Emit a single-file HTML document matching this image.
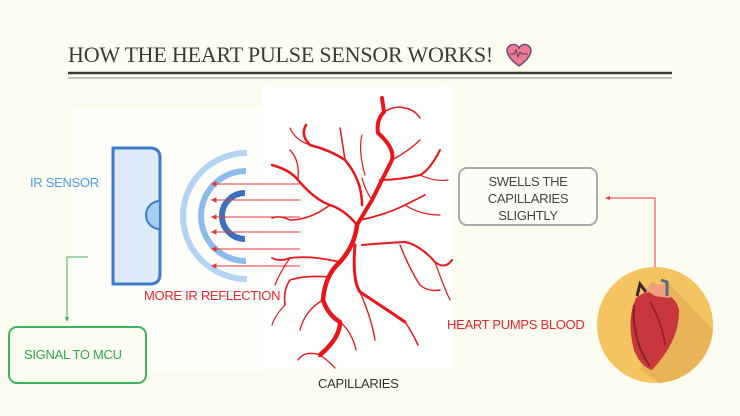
<!DOCTYPE html>
<html><head><meta charset="utf-8"><style>
html,body{margin:0;padding:0;}
body{width:740px;height:416px;background:#fcfcf1;position:relative;overflow:hidden;font-family:"Liberation Sans",sans-serif;}
.t{position:absolute;white-space:nowrap;font-size:13px;letter-spacing:-0.3px;}
</style></head><body>
<svg width="740" height="416" style="position:absolute;left:0;top:0">
  <rect x="72" y="108" width="195" height="262" fill="#fefefb"/>
  <rect x="262" y="86" width="190" height="282" fill="#ffffff"/>
  <line x1="68" y1="73" x2="672" y2="73" stroke="#3a3a36" stroke-width="2.5"/>
  <line x1="68" y1="78" x2="672" y2="78" stroke="#8a8a80" stroke-width="1"/>
  <path d="M519 66 C506 57 504 48 511 45 C515 43 518 46 519 48 C520 46 523 43 527 45 C534 48 532 57 519 66Z" fill="#f07a93" stroke="#6a4a7a" stroke-width="1.5"/>
  <polyline points="510,54 514,54 516,50 518,57 520,52 522,54 528,54" fill="none" stroke="#5a3a5a" stroke-width="1"/>
  <path d="M113 148 H150 Q160 148 160 158 V274 Q160 284 150 284 H113 Z" fill="#dceafa" stroke="#3d7cc9" stroke-width="3"/>
  <path d="M160 201 A14 14 0 0 0 160 229 Z" fill="#a8cbf0" stroke="#3d7cc9" stroke-width="2"/>
  <path d="M247 153 A64 63 0 0 0 247 279" fill="none" stroke="#b5d4f3" stroke-width="6"/>
  <path d="M246 171 A45 45 0 0 0 246 261" fill="none" stroke="#8cbcec" stroke-width="6"/>
  <path d="M245 193 A23 23 0 0 0 245 239" fill="none" stroke="#3a72bb" stroke-width="6"/>
  <g stroke="#e8353a" stroke-width="1" fill="#e8353a">
    <line x1="300" y1="184" x2="214" y2="184"/><polygon points="212,184 216,182 216,186"/>
    <line x1="300" y1="200" x2="214" y2="200"/><polygon points="212,200 216,198 216,202"/>
    <line x1="300" y1="217" x2="214" y2="217"/><polygon points="212,217 216,215 216,219"/>
    <line x1="300" y1="232" x2="214" y2="232"/><polygon points="212,232 216,230 216,234"/>
    <line x1="300" y1="249" x2="214" y2="249"/><polygon points="212,249 216,247 216,251"/>
    <line x1="300" y1="266" x2="214" y2="266"/><polygon points="212,266 216,264 216,268"/>
  </g>
  <g fill="none" stroke="#e8161b" stroke-linecap="round" stroke-linejoin="round">
    <path d="M357 225 L372 200 Q382 180 392 160 Q395 148 378 133 Q376 120 384 112 L382 98" stroke-width="4"/>
    <path d="M357 225 Q355 245 340 262 Q325 275 323 300 Q328 315 340 322 Q340 338 320 355" stroke-width="4.5"/>
    <path d="M355 245 Q352 280 360 292 Q380 305 405 322" stroke-width="3"/>
    <path d="M357 225 Q345 210 330 205 Q315 200 298 180 Q290 170 272 165" stroke-width="2.5"/>
    <path d="M362 205 Q362 180 345 160 Q330 150 310 145 Q300 135 306 125" stroke-width="2.5"/>
    <path d="M380 180 Q400 180 420 175 Q430 170 440 150" stroke-width="2"/>
    <path d="M360 220 Q385 215 405 205 Q415 200 425 195" stroke-width="1.8"/>
    <path d="M362 245 Q385 243 405 242 Q420 245 435 262 Q445 270 452 260" stroke-width="2"/>
    <path d="M340 262 Q310 255 290 258 Q280 262 272 258" stroke-width="1.8"/>
    <path d="M330 277 Q305 275 290 280 Q283 290 285 305" stroke-width="1.6"/>
    <path d="M330 205 Q310 220 290 220 Q280 215 272 218" stroke-width="1.5"/>
    <path d="M345 160 Q342 140 340 128" stroke-width="1.5"/>
    <path d="M384 112 Q395 105 405 108 Q415 110 420 118" stroke-width="1.5"/>
    <path d="M392 160 Q410 150 420 140" stroke-width="1.3"/>
    <path d="M405 322 Q412 332 418 345" stroke-width="1.5"/>
    <path d="M400 245 Q410 270 420 285 Q428 292 440 290" stroke-width="1.4"/>
    <path d="M360 292 Q372 320 375 340" stroke-width="1.4"/>
    <path d="M340 322 Q352 332 356 350" stroke-width="1.3"/>
    <path d="M323 300 Q305 310 300 330" stroke-width="1.3"/>
    <path d="M320 355 Q305 350 298 360" stroke-width="1.3"/>
    <path d="M320 355 Q330 362 335 368" stroke-width="1.3"/>
    <path d="M298 180 Q300 160 290 150" stroke-width="1.3"/>
    <path d="M310 145 Q295 140 290 128" stroke-width="1.2"/>
    <path d="M365 175 Q358 150 362 135" stroke-width="1.2"/>
    <path d="M372 200 Q365 190 362 178" stroke-width="1.2"/>
    <path d="M420 175 Q435 182 448 180" stroke-width="1.2"/>
    <path d="M405 205 Q420 215 440 215" stroke-width="1.2"/>
    <path d="M290 258 Q280 272 275 285" stroke-width="1.2"/>
    <path d="M285 305 Q275 315 272 325" stroke-width="1.2"/>
    <path d="M435 262 Q445 290 450 300" stroke-width="1.2"/>
  </g>
  <rect x="459" y="168" width="138" height="57" rx="8" fill="#fdfdf8" stroke="#aaa" stroke-width="2"/>
  <rect x="9" y="327" width="137" height="56" rx="8" fill="#fcfcf1" stroke="#3cb55a" stroke-width="2"/>
  <polyline points="88,257 67,257 67,318" fill="none" stroke="#3cb55a" stroke-width="1"/>
  <polygon points="67,322 65,317 69,317" fill="#3cb55a"/>
  <polyline points="655,268 655,198 610,198" fill="none" stroke="#e8353a" stroke-width="1"/>
  <polygon points="605,198 610,196 610,200" fill="#e8353a"/>
  <circle cx="655" cy="325" r="58" fill="#f5c462"/>
  <path d="M668 282 L713 330 A58 58 0 0 1 660 383 L640 370 Z" fill="#e9b457"/>
  <path d="M636 298 Q648 288 662 294 Q676 296 679 310 Q680 340 652 370 Q640 366 634 350 Q626 320 636 298 Z" fill="#c8373c"/>
  <path d="M634 305 Q632 325 640 348 Q645 360 650 366" fill="none" stroke="#8a1f26" stroke-width="2"/>
  <path d="M650 302 Q662 322 665 345" fill="none" stroke="#8a1f26" stroke-width="1.5"/>
  <path d="M646 290 L652 282 L660 285 L668 282 L670 298 L655 296 Z" fill="#f0a07a"/>
  <path d="M637 296 L640 284 L646 292" fill="none" stroke="#3a2830" stroke-width="3"/>
  <path d="M661 280 L667 282 L667 296" fill="none" stroke="#5a6a80" stroke-width="3"/>
</svg>
<div class="t" style="left:68px;top:42px;font-family:'Liberation Serif',serif;font-size:22px;color:#3a3a36;letter-spacing:-0.2px">HOW THE HEART PULSE SENSOR WORKS!</div>
<div class="t" style="left:30px;top:175px;color:#4a9ee8">IR SENSOR</div>
<div class="t" style="left:144px;top:288px;color:#e8262b">MORE IR REFLECTION</div>
<div class="t" style="left:318px;top:376px;color:#333">CAPILLARIES</div>
<div class="t" style="left:447px;top:317px;color:#e8262b">HEART PUMPS BLOOD</div>
<div class="t" style="left:459px;top:173px;width:138px;text-align:center;line-height:17px;color:#444">SWELLS THE<br>CAPILLARIES<br>SLIGHTLY</div>
<div class="t" style="left:24px;top:347px;color:#2ea84c">SIGNAL TO MCU</div>
</body></html>
